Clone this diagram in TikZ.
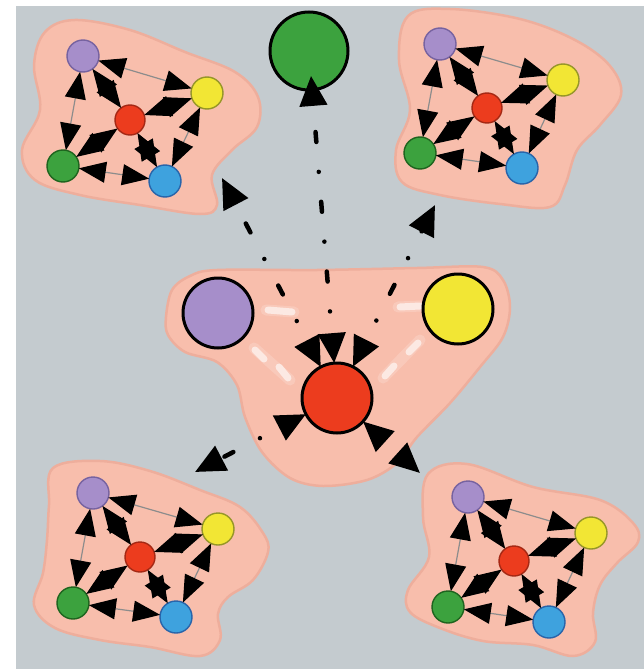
\documentclass[tikz,border=0pt]{standalone}
\usetikzlibrary{arrows.meta,calc}
\definecolor{bg}{RGB}{196,203,207}
\definecolor{blobfill}{RGB}{248,190,172}
\definecolor{blobedge}{RGB}{238,174,156}
\definecolor{purfill}{RGB}{166,142,202}
\definecolor{puredge}{RGB}{118,98,160}
\definecolor{yelfill}{RGB}{242,230,52}
\definecolor{yeledge}{RGB}{150,150,40}
\definecolor{redfill}{RGB}{236,60,30}
\definecolor{rededge}{RGB}{165,40,20}
\definecolor{grnfill}{RGB}{60,162,62}
\definecolor{grnedge}{RGB}{30,100,30}
\definecolor{blufill}{RGB}{62,162,222}
\definecolor{bluedge}{RGB}{40,100,170}
\definecolor{edgegray}{RGB}{140,140,140}
\tikzset{
  blob/.style={fill=blobfill, draw=blobedge, line width=2.5pt},
  sn/.style={circle, minimum size=32pt, inner sep=0pt, outer sep=0pt, line width=1.4pt},
  bn/.style={circle, minimum size=70pt, inner sep=0pt, outer sep=0pt, line width=3pt, draw=black},
  pur/.style={fill=purfill, draw=puredge},
  yel/.style={fill=yelfill, draw=yeledge},
  rd/.style={fill=redfill, draw=rededge},
  grn/.style={fill=grnfill, draw=grnedge},
  blu/.style={fill=blufill, draw=bluedge},
  cedge/.style={draw=edgegray, line width=1.2pt,
    {Triangle[length=27pt,width=21pt,color=black]}-{Triangle[length=27pt,width=21pt,color=black]}},
  dline/.style={draw=black, line width=4.5pt, line cap=round,
    dash pattern=on 10pt off 30pt on 0pt off 30pt, dash phase=17pt,
    {Triangle[length=30pt,width=27pt,color=black]}-{Triangle[length=30pt,width=27pt,color=black]}},
  ghost/.style={draw=white, line cap=round, line width=7pt, opacity=0.6},
  ghostsoft/.style={draw=white, line cap=round, line width=11pt, opacity=0.18}
}
\newcommand\mycluster[6]{%
  \node[sn,pur] (#1p) at (#2) {};
  \node[sn,yel] (#1y) at (#3) {};
  \node[sn,rd, minimum size=30pt] (#1r) at (#4) {};
  \node[sn,grn] (#1g) at (#5) {};
  \node[sn,blu] (#1b) at (#6) {};
  \draw[cedge] (#1p) -- (#1y);
  \draw[cedge] (#1p) -- (#1g);
  \draw[cedge] (#1g) -- (#1b);
  \draw[cedge] (#1b) -- (#1y);
  \draw[cedge] (#1r) -- (#1p);
  \draw[cedge] (#1r) -- (#1y);
  \draw[cedge] (#1r) -- (#1g);
  \draw[cedge] (#1r) -- (#1b);
}
\begin{document}
\begin{tikzpicture}[x=1pt,y=-1pt]
\useasboundingbox (0,0) rectangle (644,669);
\fill[white] (0,0) rectangle (644,669);
\fill[bg] (16,6) rectangle (644,669);

% blobs
\draw[blob] plot[smooth cycle, tension=0.6] coordinates {
  (45,32) (75,20) (130,30) (185,52) (235,72) (258,97) (257,127) (232,150)
  (212,175) (217,205) (200,214) (140,205) (80,195) (35,180) (22,150) (40,110) (34,65)};
\draw[blob] plot[smooth cycle, tension=0.6] coordinates {
  (408,16) (450,9) (520,19) (575,40) (610,66) (621,95) (600,125) (577,150)
  (565,185) (550,207) (500,204) (440,195) (402,182) (396,150) (410,110) (399,60)};
\draw[blob] plot[smooth cycle, tension=0.6] coordinates {
  (53,468) (100,461) (150,471) (200,490) (240,507) (263,533) (268,552) (253,580)
  (228,597) (218,614) (220,640) (200,656) (150,647) (100,640) (55,628) (34,605)
  (43,573) (47,540) (49,505)};
\draw[blob] plot[smooth cycle, tension=0.6] coordinates {
  (428,474) (467,464) (533,487) (600,500) (633,523) (638,542) (617,563) (600,585)
  (593,613) (595,642) (573,656) (533,645) (483,641) (440,628) (410,612) (408,590)
  (429,557) (423,517)};
\draw[blob] plot[smooth cycle, tension=0.55] coordinates {
  (166,317) (172,290) (190,276) (217,270) (317,270) (417,268) (483,267) (503,280)
  (510,307) (503,337) (480,367) (450,403) (417,437) (397,463) (367,480) (323,486)
  (290,478) (262,452) (245,417) (237,385) (217,362) (185,352) (168,335)};

% glossy highlights in the central region
\draw[ghostsoft] (266,310) -- (294,312);
\draw[ghostsoft] (398,307) -- (422,306);
\draw[ghostsoft] (254,348) -- (290,380);
\draw[ghostsoft] (420,340) -- (383,378);
\draw[ghost] (268,310) -- (292,312);
\draw[ghost] (400,307) -- (420,306);
\draw[ghost] (255,350) -- (264,359);
\draw[ghost] (279,367) -- (288,378);
\draw[ghost] (418,343) -- (409,352);
\draw[ghost] (394,366) -- (385,376);

% clusters
\mycluster{tl}{83,56}{207,93}{130,120}{63,166}{165,181}
\mycluster{tr}{440,44}{563,80}{487,108}{420,153}{522,168}
\mycluster{bl}{93,493}{218,529}{140,557}{73,603}{176,617}
\mycluster{br}{468,497}{591,533}{514,561}{448,607}{549,622}

% big nodes
\node[bn, fill=purfill] (bP) at (218,313) {};
\node[bn, fill=yelfill] (bY) at (458,309) {};
\node[bn, fill=redfill] (bR) at (337,398) {};
\node[bn, fill=grnfill, minimum size=78pt] (bG) at (309,51) {};

% free ends of the connectors
\coordinate (tlend) at (222,178);
\coordinate (trend) at (435,205);
\coordinate (blend) at (195,472);
\coordinate (brend) at (420,473);

% dash-dot connectors
\draw[dline, shorten >=-14pt] (bR) -- (bG);
\draw[dline] (bR) -- (tlend);
\draw[dline] (bR) -- (trend);
\draw[dline] (bR) -- (blend);
\draw[dline] (bR) -- (brend);
\end{tikzpicture}
\end{document}
